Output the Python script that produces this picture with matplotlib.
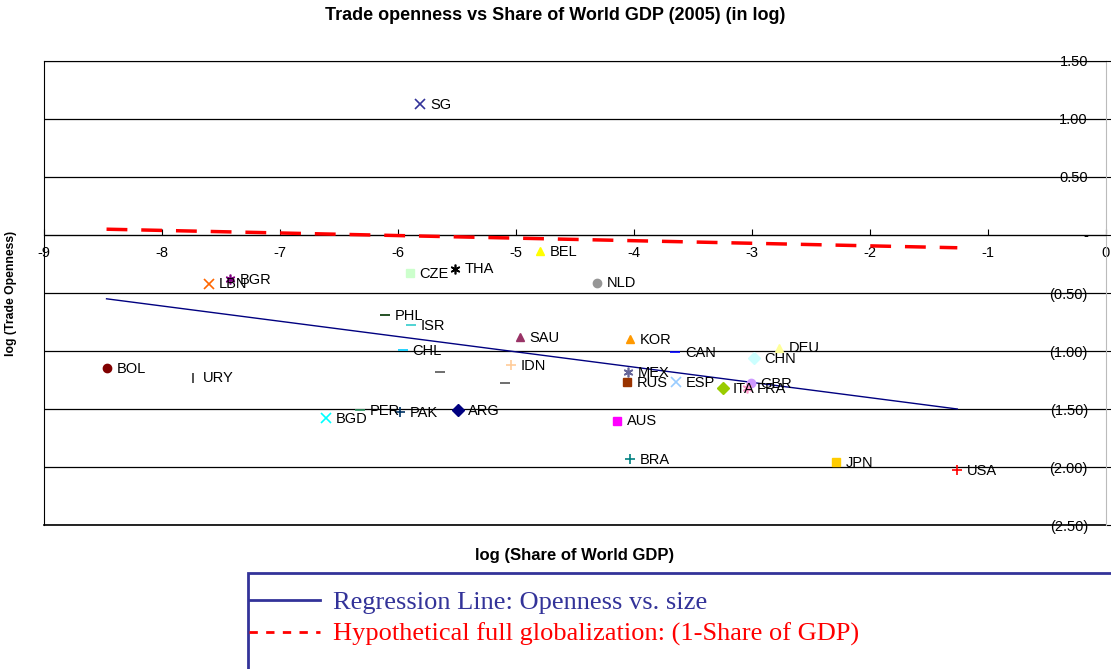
import matplotlib
matplotlib.use("Agg")
import matplotlib.pyplot as plt
import matplotlib.patches as mpatches
from matplotlib.lines import Line2D
import numpy as np

plt.rcParams.update({
    "font.family": "sans-serif",
    "font.sans-serif": ["Liberation Sans", "DejaVu Sans"],
    "font.size": 10.5,
})

# ---------------------------------------------------------------------------
# Data: log share of world GDP (x) vs log trade openness (y), 2005
# ---------------------------------------------------------------------------
countries = ["SG", "BEL", "CZE", "THA", "BGR", "LBN", "NLD", "PHL", "ISR",
             "SAU", "KOR", "CAN", "DEU", "CHN", "CHL", "BOL", "IDN", "URY",
             "MEX", "RUS", "ESP", "GBR", "FRA", "ITA", "PER", "PAK", "ARG",
             "BGD", "AUS", "BRA", "JPN", "USA", "", ""]
log_share = [-5.81, -4.80, -5.90, -5.52, -7.42, -7.60, -4.31, -6.11, -5.89,
             -4.97, -4.03, -3.65, -2.77, -2.98, -5.96, -8.47, -5.04, -7.74,
             -4.05, -4.06, -3.64, -3.01, -3.04, -3.25, -6.32, -5.98, -5.49,
             -6.61, -4.14, -4.03, -2.29, -1.26, -5.64, -5.09]
log_open = [1.13, -0.14, -0.33, -0.29, -0.38, -0.42, -0.41, -0.69, -0.78,
            -0.88, -0.90, -1.01, -0.97, -1.06, -0.99, -1.15, -1.12, -1.23,
            -1.18, -1.27, -1.27, -1.28, -1.32, -1.32, -1.51, -1.53, -1.51,
            -1.58, -1.60, -1.93, -1.96, -2.03, -1.18, -1.28]
markers = ["x", "^", "s", (6, 2, 0), (6, 2, 0), "x", "o", "_", "_",
           "^", "^", "_", "^", "D", "_", "o", "+", "|",
           (6, 2, 0), "s", "x", "o", (6, 2, 0), "D", "_", "+", "D",
           "x", "s", "+", "s", "+", "_", "_"]
colors = ["#333399", "#FFFF00", "#CCFFCC", "#000000", "#800080", "#FF6600",
          "#969696", "#003300", "#33CCCC", "#993366", "#FF9900", "#0000FF",
          "#FFFF99", "#CCFFFF", "#00CCFF", "#800000", "#FFCC99", "#333333",
          "#666699", "#993300", "#99CCFF", "#CC99FF", "#FF99CC", "#99CC00",
          "#339966", "#003366", "#000080", "#00FFFF", "#FF00FF", "#008080",
          "#FFCC00", "#FF0000", "#555555", "#555555"]

# Regression line end points and hypothetical full-globalization line
reg_x = [-8.47, -1.26]
reg_y = [-0.55, -1.50]
hyp_x = [-8.47, -1.26]
hyp_y = [0.05, -0.11]

yticks = np.arange(-2.5, 1.51, 0.5)
ytick_labels = ["(2.50)", "(2.00)", "(1.50)", "(1.00)", "(0.50)", "-",
                "0.50", "1.00", "1.50"]
xticks = np.arange(-9, 1, 1)

# ---------------------------------------------------------------------------
# Plot
# ---------------------------------------------------------------------------
fig = plt.figure(figsize=(11.11, 6.69), dpi=100)
ax = fig.add_axes([44 / 1111, 1 - 525 / 669, 1062 / 1111, 464 / 669])

for xv, yv, name, m, c in zip(log_share, log_open, countries, markers, colors):
    filled = m not in ("x", "+", "|", "_") and not isinstance(m, tuple)
    ax.plot(xv, yv, linestyle="none", marker=m, color=c,
            markersize=6 if filled else 7,
            markeredgewidth=1.0 if filled else 1.2, zorder=4)
    if name:
        ax.annotate(name, (xv, yv), xytext=(7, -0.5), textcoords="offset points",
                    va="center", ha="left", fontsize=10.5, zorder=5)

reg_line, = ax.plot(reg_x, reg_y, color="#000080", lw=1.0, zorder=3)
hyp_line, = ax.plot(hyp_x, hyp_y, color="#FF0000", lw=2.5, dashes=(6, 4), zorder=3)

ax.set_xlim(-9, 0)
ax.set_ylim(-2.5, 1.5)
ax.set_yticks(yticks)
ax.set_yticklabels(ytick_labels)
ax.set_xticks(xticks)
ax.set_xticklabels([str(v) for v in xticks])
ax.grid(axis="y", color="black", lw=0.9)
ax.axhline(-2.5, color="black", lw=1.2, clip_on=False)

ax.spines["bottom"].set_position(("data", 0))
ax.spines["bottom"].set_color("black")
ax.spines["left"].set_color("black")
ax.spines["top"].set_color("black")
ax.spines["right"].set_color("#BBBBBB")

ax.tick_params(axis="x", direction="in", length=4, pad=8, labelsize=10.5)
ax.tick_params(axis="y", left=False, labelleft=False, right=True, labelright=True,
               direction="out", length=4, pad=-17, labelsize=10.5)
plt.setp(ax.get_yticklabels(), ha="right")

ax.set_xlabel("log (Share of World GDP)", fontweight="bold", fontsize=12)
ax.xaxis.set_label_coords(0.5, -0.05)
ax.set_ylabel("log (Trade Openness)", fontweight="bold", fontsize=8.8)
ax.yaxis.set_label_coords(-0.025, 0.5)

fig.suptitle("Trade openness vs Share of World GDP (2005) (in log)",
             fontweight="bold", fontsize=13, y=1 - 16 / 669, va="center")

# --- legend box below the chart ---
box = mpatches.Rectangle((248 / 1111, -0.1), 1.0, 0.1 + 1 - 573 / 669,
                         transform=fig.transFigure, fill=False,
                         edgecolor="#333399", lw=2, clip_on=False)
fig.patches.append(box)
leg_handles = [Line2D([], [], color="#333399", lw=2),
               Line2D([], [], color="#FF0000", lw=2, dashes=(3, 3))]
leg = fig.legend(leg_handles,
                 ["Regression Line: Openness vs. size",
                  "Hypothetical full globalization: (1-Share of GDP)"],
                 loc="upper left", bbox_to_anchor=(249 / 1111, 1 - 591 / 669),
                 frameon=False, prop={"family": "Liberation Serif", "size": 19},
                 handlelength=2.7, handletextpad=0.5, labelspacing=0.3,
                 borderpad=0, borderaxespad=0)
for txt, col in zip(leg.get_texts(), ["#333399", "#FF0000"]):
    txt.set_color(col)

fig.savefig("out.png", dpi=100)
